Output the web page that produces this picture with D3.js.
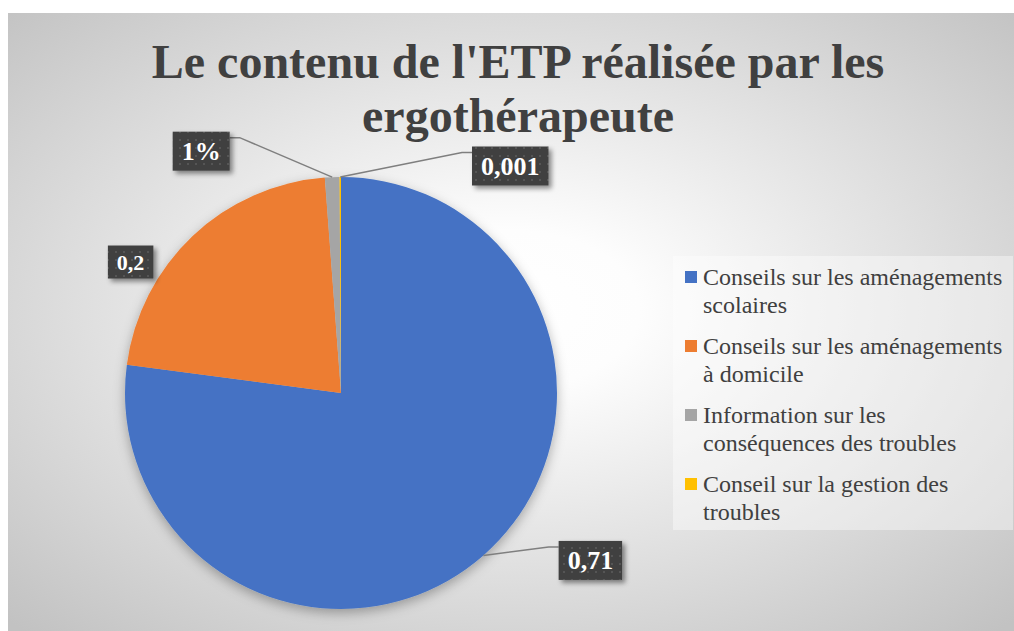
<!DOCTYPE html>
<html lang="fr">
<head>
<meta charset="utf-8">
<script src="https://cdn.jsdelivr.net/npm/d3@7"></script>
<style>
  html, body { margin: 0; padding: 0; background: #fff; }
  svg { display: block; font-family: "Liberation Serif", "Times New Roman", serif; }
</style>
</head>
<body>
<svg id="chart" width="1014" height="631"></svg>
<script>
// Données
const titleLines = ["Le contenu de l'ETP réalisée par les", 'ergothérapeute'];
const categories = [
  'Conseils sur les aménagements scolaires',
  'Conseils sur les aménagements à domicile',
  'Information sur les conséquences des troubles',
  'Conseil sur la gestion des troubles'
];
const values = [0.71, 0.2, 0.01, 0.001];
const valueLabels = ['0,71', '0,2', '1%', '0,001'];

// Mise en page / styles
const colors = ['#4472C4', '#ED7D31', '#A5A5A5', '#FFC000'];
const labelFont = [26, 22, 26, 26];
// décalage du centre de l'étiquette par rapport au bord extérieur de la part
const labelOffsets = [[107, 5], [-62, 26], [-131, -26], [170, -11]];
const hasLeader = [true, false, true, true];

const W = 1014, H = 631;
const frame = { x: 8, y: 13, w: W - 8, h: H - 13 };
const pieCenter = { x: 341, y: 393 };
const radius = 216;

const svg = d3.select('#chart');
const defs = svg.append('defs');

const bg = defs.append('radialGradient').attr('id', 'bgGrad')
  .attr('cx', '50%').attr('cy', '48%').attr('r', '71%');
bg.append('stop').attr('offset', '0%').attr('stop-color', '#ffffff');
bg.append('stop').attr('offset', '18%').attr('stop-color', '#fdfdfd');
bg.append('stop').attr('offset', '100%').attr('stop-color', '#c2c2c2');

const dots = defs.append('pattern').attr('id', 'dots')
  .attr('patternUnits', 'userSpaceOnUse').attr('width', 8).attr('height', 8);
dots.append('rect').attr('width', 8).attr('height', 8).attr('fill', '#404040');
dots.append('circle').attr('cx', 4).attr('cy', 4).attr('r', 1.1).attr('fill', '#595959');

const pieShadow = defs.append('filter').attr('id', 'pieShadow')
  .attr('x', '-20%').attr('y', '-20%').attr('width', '140%').attr('height', '140%');
pieShadow.append('feDropShadow').attr('dx', 0).attr('dy', 4).attr('stdDeviation', 6)
  .attr('flood-color', '#000').attr('flood-opacity', 0.3);

const boxShadow = defs.append('filter').attr('id', 'boxShadow')
  .attr('x', '-30%').attr('y', '-30%').attr('width', '160%').attr('height', '160%');
boxShadow.append('feDropShadow').attr('dx', 3).attr('dy', 3).attr('stdDeviation', 2.5)
  .attr('flood-color', '#000').attr('flood-opacity', 0.45);

svg.append('rect')
  .attr('x', frame.x).attr('y', frame.y).attr('width', frame.w).attr('height', frame.h)
  .attr('fill', 'url(#bgGrad)');

// Titre
const title = svg.append('text')
  .attr('x', 518).attr('text-anchor', 'middle')
  .attr('font-size', 48).attr('font-weight', 'bold').attr('fill', '#404040');
titleLines.forEach((line, i) => {
  title.append('tspan').attr('x', 518).attr('y', 78 + i * 54).text(line);
});

// Camembert
const pie = d3.pie().sort(null).value((d) => d);
const arcs = pie(values);
const arc = d3.arc().innerRadius(0).outerRadius(radius);
const edge = d3.arc().innerRadius(radius).outerRadius(radius);

const pieG = svg.append('g')
  .attr('transform', `translate(${pieCenter.x},${pieCenter.y})`);
pieG.append('g').attr('filter', 'url(#pieShadow)')
  .selectAll('path')
  .data(arcs)
  .join('path')
  .attr('d', arc)
  .attr('fill', (d, i) => colors[i]);

// Étiquettes de données
const labelG = svg.append('g');
arcs.forEach((d, i) => {
  const [ax, ay] = edge.centroid(d);
  const anchor = [ax + pieCenter.x, ay + pieCenter.y];
  const cx = anchor[0] + labelOffsets[i][0];
  const cy = anchor[1] + labelOffsets[i][1];
  const fs = labelFont[i];

  const g = labelG.append('g');
  const rect = g.append('rect');
  const text = g.append('text')
    .attr('x', cx).attr('y', cy + fs * 0.34)
    .attr('text-anchor', 'middle')
    .attr('font-size', fs).attr('font-weight', 'bold').attr('fill', '#fff')
    .text(valueLabels[i]);
  const tw = text.node().getComputedTextLength();
  const bw = tw + 18, bh = fs * 1.5;
  const bx = cx - bw / 2, by = cy - bh / 2;
  rect.attr('x', bx).attr('y', by).attr('width', bw).attr('height', bh)
    .attr('fill', 'url(#dots)').attr('filter', 'url(#boxShadow)');

  if (hasLeader[i]) {
    const leftOfAnchor = cx < anchor[0];
    const sideX = leftOfAnchor ? bx + bw : bx;
    const stubX = leftOfAnchor ? sideX + 10 : sideX - 10;
    const ly = by + 6;
    labelG.insert('path', ':first-child')
      .attr('d', d3.line()([anchor, [stubX, ly], [sideX, ly]]))
      .attr('fill', 'none').attr('stroke', '#7f7f7f').attr('stroke-width', 1.5);
  }
});

// Légende
const legend = { x: 673, y: 256, w: 340, h: 274, maxText: 305, fs: 24, lineH: 28, gap: 13 };
svg.append('rect')
  .attr('x', legend.x).attr('y', legend.y).attr('width', legend.w).attr('height', legend.h)
  .attr('fill', '#ffffff').attr('fill-opacity', 0.4);

const legendG = svg.append('g');
let baseline = 285;
categories.forEach((name, i) => {
  const item = legendG.append('g');
  item.append('rect')
    .attr('x', 685).attr('y', baseline - 14).attr('width', 12).attr('height', 12)
    .attr('fill', colors[i]);
  const text = item.append('text')
    .attr('font-size', legend.fs).attr('fill', '#404040');
  const words = name.split(' ');
  let line = [];
  let tspan = text.append('tspan').attr('x', 703).attr('y', baseline);
  let lines = 1;
  words.forEach((w) => {
    line.push(w);
    tspan.text(line.join(' '));
    if (tspan.node().getComputedTextLength() > legend.maxText && line.length > 1) {
      line.pop();
      tspan.text(line.join(' '));
      line = [w];
      tspan = text.append('tspan').attr('x', 703)
        .attr('y', baseline + lines * legend.lineH).text(w);
      lines += 1;
    }
  });
  baseline += lines * legend.lineH + legend.gap;
});
</script>
</body>
</html>
